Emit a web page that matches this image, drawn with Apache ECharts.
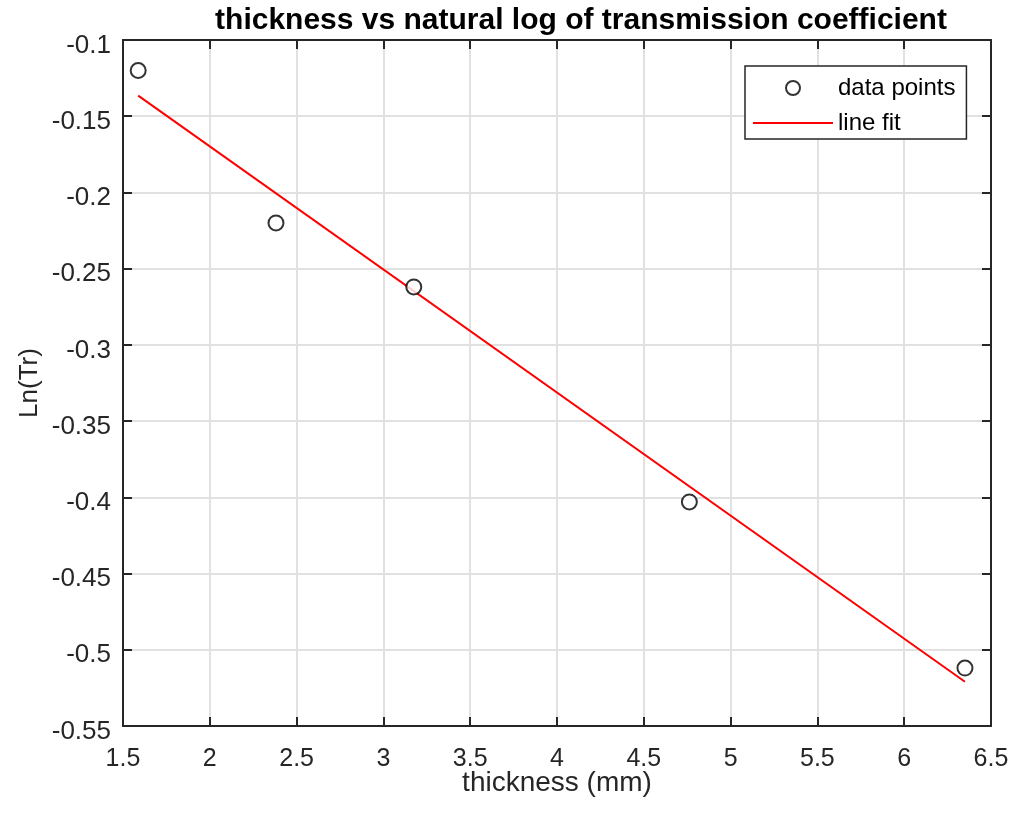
<!DOCTYPE html>
<html>
<head>
<meta charset="utf-8">
<title>thickness vs natural log of transmission coefficient</title>
<script src="https://cdn.jsdelivr.net/npm/echarts@6/dist/echarts.min.js"></script>
<style>
  html, body { margin: 0; padding: 0; background: #ffffff; }
  #chart { width: 1017px; height: 815px; }
</style>
</head>
<body>
<div id="chart"></div>
<script>
// Measured samples: plate thickness (mm) and ln of transmission coefficient
const thickness = [1.5875, 2.38125, 3.175, 4.7625, 6.35];
const lnTr = [-0.120, -0.220, -0.262, -0.403, -0.512];

// Least-squares line evaluated at the ends of the thickness range
const fitThickness = [1.5875, 6.35];
const fitLnTr = [-0.1365, -0.521];

const seriesNames = ['data points', 'line fit'];

const FONT = '"Liberation Sans", Arial, Helvetica, sans-serif';
const AXIS_COLOR = '#262626';
const GRID_COLOR = '#e1e1e1';

const fmt = v => String(Number(v.toFixed(2)));

const xRange = { min: 1.5, max: 6.5, interval: 0.5 };
const yRange = { min: -0.55, max: -0.1, interval: 0.05 };

function boxAxis(extra) {
  return Object.assign({
    type: 'value',
    axisLine: { show: true, onZero: false, lineStyle: { color: AXIS_COLOR, width: 2 } },
    axisTick: { show: true, inside: true, length: 9, lineStyle: { color: AXIS_COLOR, width: 2 } },
    splitLine: { show: false },
    axisLabel: { show: false }
  }, extra);
}

const chart = echarts.init(document.getElementById('chart'), null, { renderer: 'canvas' });

chart.setOption({
  animation: false,
  backgroundColor: '#ffffff',
  title: {
    text: 'thickness vs natural log of transmission coefficient',
    left: 576,
    top: 1,
    textAlign: 'center',
    textStyle: { fontFamily: FONT, fontSize: 30, fontWeight: 'bold', color: '#000000' }
  },
  grid: { left: 123, top: 40, width: 868, height: 686, containLabel: false },
  legend: {
    orient: 'vertical',
    left: 745,
    top: 66,
    padding: [10, 11, 4, 8],
    itemWidth: 80,
    itemHeight: 14,
    itemGap: 11,
    borderColor: AXIS_COLOR,
    borderWidth: 1.5,
    backgroundColor: '#ffffff',
    data: [
      { name: seriesNames[0] },
      { name: seriesNames[1], icon: 'path://M0,0H80V2H0Z', itemStyle: { color: '#ff0000' } }
    ],
    textStyle: { fontFamily: FONT, fontSize: 24, color: '#000000', lineHeight: 22 }
  },
  xAxis: [
    boxAxis(Object.assign({
      position: 'bottom',
      name: 'thickness (mm)',
      nameLocation: 'middle',
      nameGap: 43,
      nameMoveOverlap: false,
      nameTextStyle: { fontFamily: FONT, fontSize: 28, color: AXIS_COLOR },
      splitLine: { show: true, lineStyle: { color: GRID_COLOR, width: 2 } },
      axisLabel: { show: true, margin: 21, formatter: fmt, fontFamily: FONT, fontSize: 25, color: AXIS_COLOR }
    }, xRange)),
    boxAxis(Object.assign({ position: 'top' }, xRange))
  ],
  yAxis: [
    boxAxis(Object.assign({
      position: 'left',
      name: 'Ln(Tr)',
      nameLocation: 'middle',
      nameGap: 80,
      nameMoveOverlap: false,
      nameTextStyle: { fontFamily: FONT, fontSize: 26, color: AXIS_COLOR },
      splitLine: { show: true, lineStyle: { color: GRID_COLOR, width: 2 } },
      axisLabel: {
        show: true, margin: 12,
        formatter: v => '{t|' + fmt(v) + '}',
        rich: { t: { fontFamily: FONT, fontSize: 26, color: AXIS_COLOR, padding: [11, 0, 0, 0] } }
      }
    }, yRange)),
    boxAxis(Object.assign({ position: 'right' }, yRange))
  ],
  series: [
    {
      name: seriesNames[0],
      type: 'scatter',
      xAxisIndex: 0,
      yAxisIndex: 0,
      symbol: 'emptyCircle',
      symbolSize: 15,
      itemStyle: { color: '#000000', borderColor: '#000000', borderWidth: 2 },
      data: thickness.map((t, i) => [t, lnTr[i]]),
      z: 3
    },
    {
      name: seriesNames[1],
      type: 'line',
      xAxisIndex: 0,
      yAxisIndex: 0,
      symbol: 'none',
      lineStyle: { color: '#ff0000', width: 2 },
      itemStyle: { color: '#ff0000' },
      data: fitThickness.map((t, i) => [t, fitLnTr[i]]),
      z: 2
    }
  ]
});
</script>
</body>
</html>
